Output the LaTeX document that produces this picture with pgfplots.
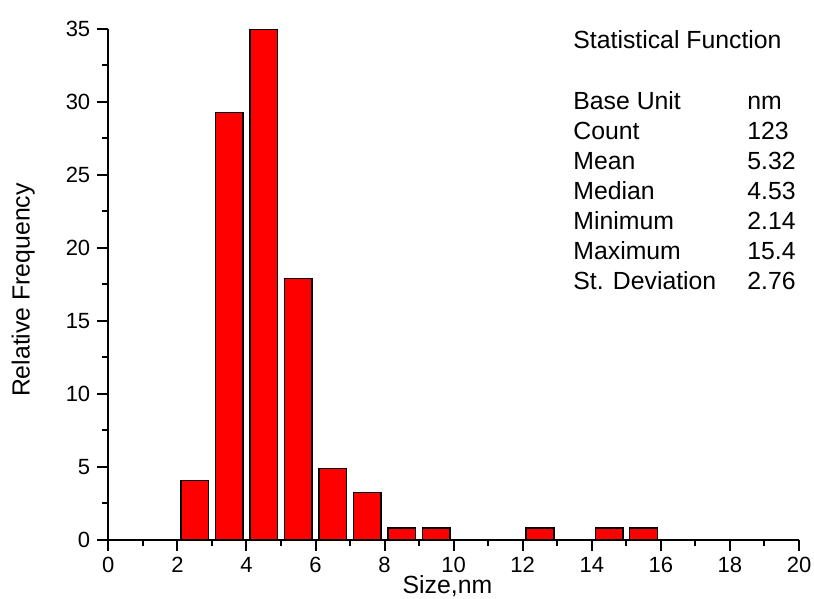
\documentclass[border=0pt]{standalone}
\usepackage{pgfplots}
\pgfplotsset{compat=1.18}
\usepackage{fontspec}
\setmainfont{Liberation Sans}
\begin{document}
\begin{tikzpicture}
\begin{axis}[
  scale only axis,
  width=345.35pt, height=255.5pt,
  xmin=0, xmax=20, ymin=0, ymax=35,
  axis lines=left,
  axis line style={-, line width=1pt},
  xtick={0,2,...,20}, ytick={0,5,...,35},
  minor x tick num=1, minor y tick num=1,
  tick align=outside,
  major tick length=5.5pt, minor tick length=3pt,
  every tick/.style={black, line width=1pt},
  /pgf/number format/assume math mode=true,
  tick label style={font=\fontsize{11}{13}\selectfont},
  x tick label style={inner sep=0pt, yshift=-3pt},
  xlabel={Size,nm}, ylabel={Relative Frequency},
  label style={font=\fontsize{12.4}{15}\selectfont},
  xlabel style={at={(axis description cs:0.491,0)}, anchor=base, yshift=-27pt, inner sep=0pt},
  ylabel style={at={(axis description cs:0,0.489)}, anchor=center, yshift=42.6pt},
  clip=false,
]
\addplot[ybar, bar width=0.8, fill={rgb,255:red,255;green,0;blue,0}, draw=black, line width=0.7pt]
coordinates {
(2.5,4.07) (3.5,29.27) (4.5,34.96) (5.5,17.89) (6.5,4.88) (7.5,3.25)
(8.5,0.81) (9.5,0.81) (12.5,0.81) (14.5,0.81) (15.5,0.81)
};
\end{axis}
\begin{scope}[shift={(current axis.north west)}, every node/.style={inner sep=0pt, font=\fontsize{12.4}{15}\selectfont}]
\node[anchor=base west] at (232.35pt,-10pt) {Statistical Function};
\node[anchor=base west] at (232.35pt,-40.5pt) {Base Unit};
\node[anchor=base west] at (232.35pt,-55.5pt) {Count};
\node[anchor=base west] at (232.35pt,-70.5pt) {Mean};
\node[anchor=base west] at (232.35pt,-85.5pt) {Median};
\node[anchor=base west] at (232.35pt,-100.5pt) {Minimum};
\node[anchor=base west] at (232.35pt,-115.5pt) {Maximum};
\node[anchor=base west] at (232.35pt,-130.5pt) {St. Deviation};
\node[anchor=base west] at (319.35pt,-40.5pt) {nm};
\node[anchor=base west] at (319.35pt,-55.5pt) {123};
\node[anchor=base west] at (319.35pt,-70.5pt) {5.32};
\node[anchor=base west] at (319.35pt,-85.5pt) {4.53};
\node[anchor=base west] at (319.35pt,-100.5pt) {2.14};
\node[anchor=base west] at (319.35pt,-115.5pt) {15.4};
\node[anchor=base west] at (319.35pt,-130.5pt) {2.76};
\path (-54.15pt,14.5pt) rectangle (352.85pt,-285pt);
\end{scope}
\end{tikzpicture}
\end{document}
